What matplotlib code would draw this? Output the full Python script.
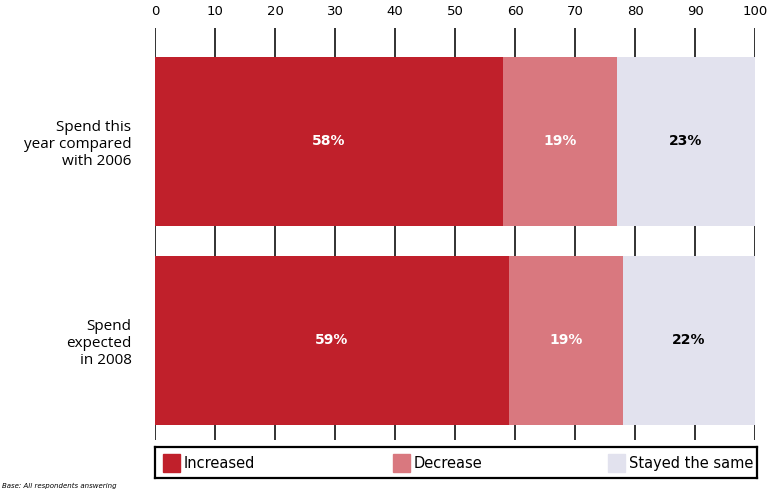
import matplotlib
matplotlib.use("Agg")
from matplotlib import pyplot as plt
from matplotlib.patches import Rectangle
import numpy as np

categories = ["Spend this\nyear compared\nwith 2006", "Spend\nexpected\nin 2008"]
series = ["Increased", "Decrease", "Stayed the same"]
increased = [58, 59]
decrease = [19, 19]
same = [23, 22]
xticks = [0, 10, 20, 30, 40, 50, 60, 70, 80, 90, 100]

colors = ["#C0202B", "#D9787F", "#E2E2EE"]
text_colors = ["white", "white", "black"]
narrow = ["Liberation Sans Narrow", "DejaVu Sans"]

fig = plt.figure(figsize=(7.68, 4.9), dpi=100)
ax = fig.add_axes([155/768, 1 - 440/490, 600/768, 412/490])

y = np.arange(len(categories))
left = np.zeros(len(categories))
for vals, col, tc in zip([increased, decrease, same], colors, text_colors):
    vals = np.array(vals)
    ax.barh(y, vals, left=left, height=0.85, color=col, zorder=2)
    for yi, l, v in zip(y, left, vals):
        ax.text(l + v / 2, yi, "%d%%" % v, ha="center", va="center",
                color=tc, fontsize=10, fontweight="bold", family=narrow, zorder=3)
    left = left + vals

ax.set_xlim(0, 100)
ax.set_ylim(1.5, -0.57)
ax.set_xticks(xticks)
ax.xaxis.tick_top()
ax.tick_params(axis="x", length=0, pad=7, labelsize=9.5)
for lbl in ax.get_xticklabels():
    lbl.set_family(narrow)
ax.set_yticks(y)
ax.set_yticklabels(categories, fontsize=11, family=["Open Sans", "DejaVu Sans"])
ax.tick_params(axis="y", length=0, pad=17)
ax.grid(axis="x", color="#222222", lw=1.3, zorder=1)
for s in ax.spines.values():
    s.set_visible(False)

# legend box
lax = fig.add_axes([155/768, 1 - 478/490, 602/768, 31/490])
lax.set_xlim(0, 602)
lax.set_ylim(0, 31)
lax.set_xticks([])
lax.set_yticks([])
for s in lax.spines.values():
    s.set_linewidth(1.6)
    s.set_color("black")
for x0, col, name in zip([8, 238, 453], colors, series):
    lax.add_patch(Rectangle((x0, 6), 17, 18, color=col))
    lax.text(x0 + 21, 15, name, va="center", ha="left", fontsize=10.5, family=narrow)

fig.text(2/768, 1 - 486/490, "Base: All respondents answering", fontsize=5,
         style="italic", va="center", family=narrow)

fig.savefig("out.png", dpi=100)
